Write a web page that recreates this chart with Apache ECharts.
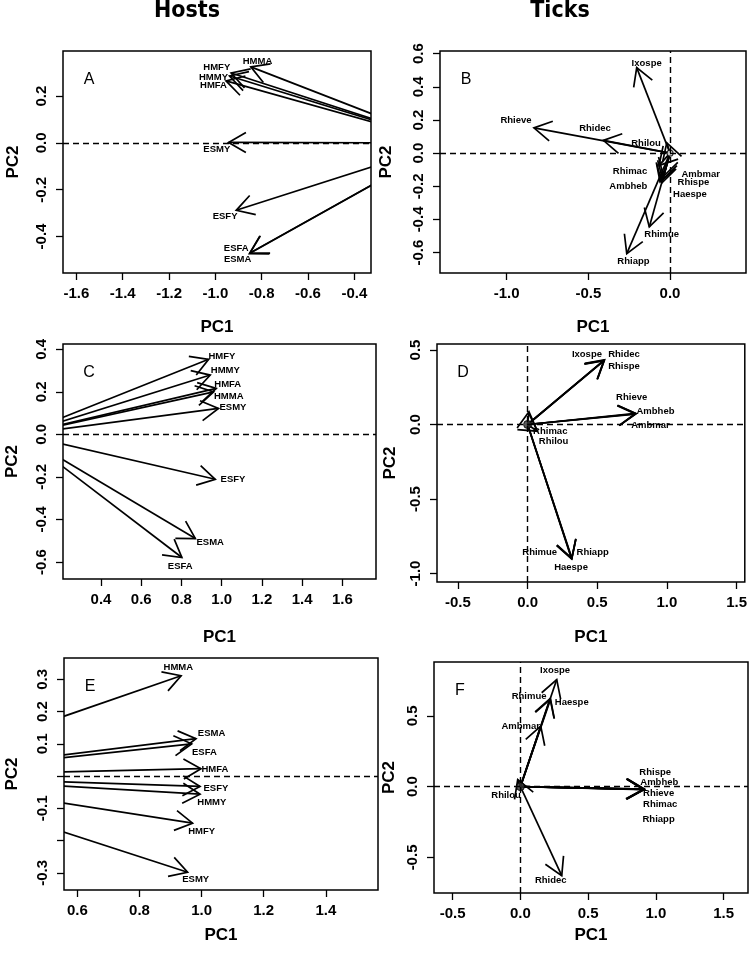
<!DOCTYPE html>
<html><head><meta charset="utf-8">
<script src="https://cdn.jsdelivr.net/npm/echarts@6/dist/echarts.min.js"></script>
<style>html,body{margin:0;padding:0;background:#fff}#c{width:750px;height:956px}</style>
</head><body><div id="c"></div>
<script>
// ---------- Panel A (Hosts) ----------
const A_names = ['HMMA','HMFY','HMMY','HMFA','ESMY','ESFY','ESFA','ESMA'];
const A_pc1   = [-0.847,-0.932,-0.939,-0.954,-0.943,-0.910,-0.853,-0.850];
const A_pc2   = [0.325,0.299,0.286,0.265,0.002,-0.288,-0.473,-0.470];
const A_lab1  = [-0.818,-0.994,-1.008,-1.008,-0.994,-0.958,-0.910,-0.904];
const A_lab2  = [0.350,0.322,0.279,0.246,-0.027,-0.312,-0.452,-0.496];
const A_xticks = [-1.6,-1.4,-1.2,-1.0,-0.8,-0.6,-0.4];
const A_yticks = [-0.4,-0.2,0.0,0.2];

// ---------- Panel B (Ticks) ----------
const B_names = ['Ixospe','Rhieve','Rhidec','Rhilou','Rhimac','Ambheb','Ambmar','Rhispe','Haespe','Rhimue','Rhiapp'];
const B_pc1   = [-0.204,-0.833,-0.408,-0.020,-0.067,-0.061,-0.040,-0.045,-0.050,-0.127,-0.265];
const B_pc2   = [0.516,0.152,0.077,0.062,-0.074,-0.174,-0.140,-0.160,-0.180,-0.445,-0.606];
const B_lab1  = [-0.143,-0.943,-0.459,-0.147,-0.245,-0.255,0.188,0.143,0.122,-0.051,-0.224];
const B_lab2  = [0.540,0.198,0.148,0.061,-0.113,-0.200,-0.127,-0.179,-0.250,-0.492,-0.650];
const B_xticks = [-1.0,-0.5,0.0];
const B_yticks = [-0.6,-0.4,-0.2,0.0,0.2,0.4,0.6];

// ---------- Panel C (Hosts) ----------
const C_names = ['HMFY','HMMY','HMFA','HMMA','ESMY','ESFY','ESMA','ESFA'];
const C_pc1   = [0.935,0.943,0.973,0.960,0.984,0.968,0.869,0.802];
const C_pc2   = [0.353,0.279,0.216,0.200,0.122,-0.211,-0.490,-0.579];
const C_lab1  = [1.001,1.018,1.030,1.035,1.056,1.056,0.943,0.794];
const C_lab2  = [0.365,0.299,0.237,0.180,0.127,-0.212,-0.506,-0.620];
const C_xticks = [0.4,0.6,0.8,1.0,1.2,1.4,1.6];
const C_yticks = [-0.6,-0.4,-0.2,0.0,0.2,0.4];

// ---------- Panel D (Ticks) ----------
const D_names = ['Ixospe','Rhidec','Rhispe','Rhieve','Ambheb','Ambmar','Rhimac','Rhilou','Rhimue','Rhiapp','Haespe'];
const D_pc1   = [0.548,0.552,0.550,0.776,0.778,0.774,0.070,0.010,0.317,0.318,0.316];
const D_pc2   = [0.430,0.434,0.428,0.074,0.072,0.070,-0.045,0.085,-0.900,-0.898,-0.902];
const D_lab1  = [0.426,0.692,0.692,0.747,0.918,0.882,0.163,0.187,0.087,0.467,0.312];
const D_lab2  = [0.472,0.472,0.392,0.179,0.085,-0.004,-0.045,-0.116,-0.859,-0.859,-0.956];
const D_xticks = [-0.5,0.0,0.5,1.0,1.5];
const D_yticks = [-1.0,-0.5,0.0,0.5];

// ---------- Panel E (Hosts) ----------
const E_names = ['HMMA','ESMA','ESFA','HMFA','ESFY','HMMY','HMFY','ESMY'];
const E_pc1   = [0.934,0.982,0.968,0.998,0.995,0.995,0.971,0.955];
const E_pc2   = [0.311,0.116,0.100,0.023,-0.032,-0.056,-0.146,-0.298];
const E_lab1  = [0.925,1.032,1.009,1.043,1.046,1.033,1.000,0.981];
const E_lab2  = [0.337,0.131,0.074,0.020,-0.038,-0.082,-0.170,-0.321];
const E_xticks = [0.6,0.8,1.0,1.2,1.4];
const E_yticks = [-0.3,-0.2,-0.1,0.0,0.1,0.2,0.3];
const E_ylabels = [-0.3,-0.1,0.1,0.2,0.3];

// ---------- Panel F (Ticks) ----------
const F_names = ['Ixospe','Rhimue','Haespe','Ambmar','Rhispe','Ambheb','Rhieve','Rhimac','Rhiapp','Rhidec','Rhilou'];
const F_pc1   = [0.268,0.219,0.222,0.150,0.916,0.914,0.912,0.910,0.908,0.305,-0.020];
const F_pc2   = [0.756,0.622,0.618,0.427,-0.019,-0.017,-0.021,-0.020,-0.018,-0.629,0.050];
const F_lab1  = [0.256,0.064,0.379,0.002,0.995,1.025,1.020,1.032,1.020,0.224,-0.106];
const F_lab2  = [0.822,0.634,0.592,0.427,0.101,0.028,-0.047,-0.124,-0.228,-0.664,-0.059];
const F_xticks = [-0.5,0.0,0.5,1.0,1.5];
const F_yticks = [-0.5,0.0,0.5];

const FF = '"Liberation Sans", Arial, sans-serif';
const HEAD = 20;

const panels = [
  {key:'A', names:A_names, p1:A_pc1, p2:A_pc2, l1:A_lab1, l2:A_lab2, xt:A_xticks, yt:A_yticks, yl:A_yticks,
   grid:{left:63, top:51, width:308, height:222}, xr:[-1.658,-0.328], yr:[-0.556,0.393], vline:false, origin:null, xg:46, yg:41},
  {key:'B', names:B_names, p1:B_pc1, p2:B_pc2, l1:B_lab1, l2:B_lab2, xt:B_xticks, yt:B_yticks, yl:B_yticks,
   grid:{left:440, top:51, width:306, height:222}, xr:[-1.408,0.465], yr:[-0.723,0.616], vline:true, origin:'hollow', xg:46, yg:45},
  {key:'C', names:C_names, p1:C_pc1, p2:C_pc2, l1:C_lab1, l2:C_lab2, xt:C_xticks, yt:C_yticks, yl:C_yticks,
   grid:{left:63, top:344, width:313, height:235}, xr:[0.211,1.767], yr:[-0.680,0.425], vline:false, origin:null, xg:50, yg:42},
  {key:'D', names:D_names, p1:D_pc1, p2:D_pc2, l1:D_lab1, l2:D_lab2, xt:D_xticks, yt:D_yticks, yl:D_yticks,
   grid:{left:437, top:344, width:310, height:238}, xr:[-0.650,1.559], yr:[-1.057,0.540], vline:true, origin:'filled', xg:47, yg:38},
  {key:'E', names:E_names, p1:E_pc1, p2:E_pc2, l1:E_lab1, l2:E_lab2, xt:E_xticks, yt:E_yticks, yl:E_ylabels,
   grid:{left:64, top:658, width:314, height:232}, xr:[0.557,1.568], yr:[-0.353,0.366], vline:false, origin:null, xg:37, yg:43},
  {key:'F', names:F_names, p1:F_pc1, p2:F_pc2, l1:F_lab1, l2:F_lab2, xt:F_xticks, yt:F_yticks, yl:F_yticks,
   grid:{left:434, top:662, width:314, height:231}, xr:[-0.638,1.680], yr:[-0.751,0.880], vline:true, origin:'filled', xg:34, yg:36}
];

function arrowRender(params, api) {
  const p0 = api.coord([0, 0]);
  const p1 = api.coord([api.value(0), api.value(1)]);
  let dx = p0[0] - p1[0], dy = p0[1] - p1[1];
  const L = Math.hypot(dx, dy) || 1;
  const ux = dx / L, uy = dy / L;
  const a = Math.PI / 6, c = Math.cos(a), s = Math.sin(a);
  const w1 = [p1[0] + HEAD * (ux * c - uy * s), p1[1] + HEAD * (ux * s + uy * c)];
  const w2 = [p1[0] + HEAD * (ux * c + uy * s), p1[1] + HEAD * (-ux * s + uy * c)];
  const st = {stroke: '#000', lineWidth: 1.7, fill: null};
  return {type: 'group', children: [
    {type: 'line', shape: {x1: p0[0], y1: p0[1], x2: p1[0], y2: p1[1]}, style: st},
    {type: 'polyline', shape: {points: [w1, p1, w2]}, style: st}
  ]};
}

function makeLabelRender(names) {
  return function (params, api) {
    const p = api.coord([api.value(0), api.value(1)]);
    return {type: 'text', x: p[0], y: p[1], style: {
      text: names[params.dataIndex], align: 'center', verticalAlign: 'middle',
      font: 'bold 9.5px ' + FF, fill: '#000'}};
  };
}

const option = {
  backgroundColor: '#fff',
  animation: false,
  grid: [], xAxis: [], yAxis: [], series: [],
  graphic: [
    {type: 'text', x: 187, y: 11, style: {text: 'Hosts', align: 'center', verticalAlign: 'middle',
      font: 'bold 23px "DejaVu Sans Condensed", "DejaVu Sans"', fill: '#000'}},
    {type: 'text', x: 560, y: 11, style: {text: 'Ticks', align: 'center', verticalAlign: 'middle',
      font: 'bold 23px "DejaVu Sans Condensed", "DejaVu Sans"', fill: '#000'}}
  ]
};

panels.forEach((P, i) => {
  option.grid.push(Object.assign({show: true, borderColor: '#000', borderWidth: 1.5,
    backgroundColor: 'transparent', containLabel: false}, P.grid));
  option.xAxis.push({
    type: 'value', gridIndex: i, min: P.xr[0], max: P.xr[1],
    name: 'PC1', nameLocation: 'middle', nameGap: P.xg,
    nameTextStyle: {fontSize: 17, fontWeight: 'bold', color: '#000', fontFamily: FF},
    axisLine: {show: false, onZero: false}, splitLine: {show: false},
    axisTick: {show: true, inside: false, length: 7, customValues: P.xt, lineStyle: {color: '#000', width: 1.3}},
    axisLabel: {customValues: P.xt, formatter: v => (Math.abs(v) < 1e-9 ? 0 : v).toFixed(1),
      margin: 13, color: '#000', fontSize: 15, fontWeight: 'bold', fontFamily: FF}
  });
  option.yAxis.push({
    type: 'value', gridIndex: i, min: P.yr[0], max: P.yr[1],
    name: 'PC2', nameLocation: 'middle', nameGap: P.yg,
    nameTextStyle: {fontSize: 17, fontWeight: 'bold', color: '#000', fontFamily: FF},
    axisLine: {show: false, onZero: false}, splitLine: {show: false},
    axisTick: {show: true, inside: false, length: 7, customValues: P.yt, lineStyle: {color: '#000', width: 1.3}},
    axisLabel: {customValues: P.yl, formatter: v => (Math.abs(v) < 1e-9 ? 0 : v).toFixed(1), rotate: 90,
      margin: 14, color: '#000', fontSize: 15, fontWeight: 'bold', fontFamily: FF}
  });
  const ml = [{yAxis: 0}];
  if (P.vline) ml.push({xAxis: 0});
  option.series.push({
    type: 'line', xAxisIndex: i, yAxisIndex: i, data: [], silent: true,
    markLine: {silent: true, symbol: ['none', 'none'], label: {show: false},
      lineStyle: {type: [6, 4], color: '#000', width: 1.4}, data: ml}
  });
  option.series.push({
    type: 'custom', name: P.key + ' arrows', xAxisIndex: i, yAxisIndex: i, clip: true, silent: true,
    renderItem: arrowRender,
    data: P.p1.map((v, k) => [v, P.p2[k]])
  });
  option.series.push({
    type: 'custom', name: P.key + ' labels', xAxisIndex: i, yAxisIndex: i, silent: true,
    renderItem: makeLabelRender(P.names),
    data: P.l1.map((v, k) => [v, P.l2[k]])
  });
  if (P.origin) {
    option.series.push({
      type: 'scatter', xAxisIndex: i, yAxisIndex: i, silent: true, symbol: 'circle',
      symbolSize: P.origin === 'hollow' ? 6 : 8,
      itemStyle: P.origin === 'hollow' ? {color: '#fff', borderColor: '#000', borderWidth: 1.2}
                                      : {color: '#333', borderColor: '#000', borderWidth: 1},
      data: [[0, 0]]
    });
  }
  option.graphic.push({type: 'text', x: P.grid.left + 26, y: P.grid.top + 29,
    style: {text: P.key, align: 'center', verticalAlign: 'middle', font: '16px ' + FF, fill: '#000'}});
});

const chart = echarts.init(document.getElementById('c'), null, {renderer: 'canvas'});
chart.setOption(option);
</script>
</body></html>
